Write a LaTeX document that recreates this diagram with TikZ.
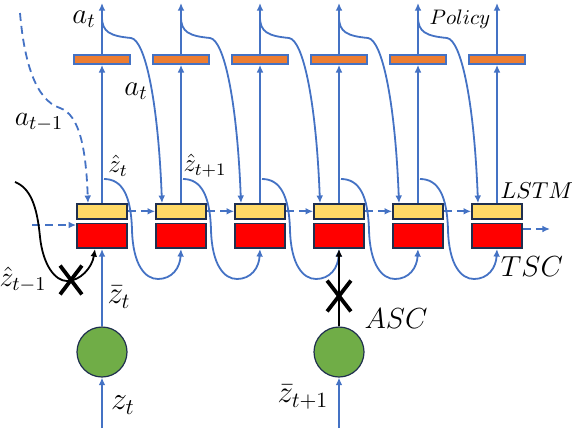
\documentclass[tikz,border=0pt]{standalone}
\usepackage{fix-cm}
\usepackage{amsmath}
\usepackage{tikz}
\usetikzlibrary{arrows.meta,positioning,calc,shapes.misc}
\definecolor{linkblue}{HTML}{4472C4}
\definecolor{polorange}{HTML}{ED7D31}
\definecolor{lstmyellow}{HTML}{FFD966}
\definecolor{tscred}{HTML}{FF0000}
\definecolor{ascgreen}{HTML}{70AD47}
\definecolor{boxnavy}{HTML}{1F2F4F}

\begin{document}
\begin{tikzpicture}[
  x=0.5pt, y=-0.5pt,
  lstm/.style={
    draw=boxnavy, line width=0.9pt, fill=lstmyellow,
    minimum width=25pt, minimum height=7.3pt, inner sep=0pt,
  },
  tsc/.style={
    draw=boxnavy, line width=0.9pt, fill=tscred,
    minimum width=25pt, minimum height=12.3pt, inner sep=0pt,
  },
  policy/.style={
    draw=linkblue, line width=0.9pt, fill=polorange,
    minimum width=28pt, minimum height=4.5pt, inner sep=0pt,
  },
  enc/.style={circle, draw=boxnavy, line width=0.6pt, fill=ascgreen,
    minimum size=25pt, inner sep=0pt},
  arr/.style={-{Latex[length=3.8pt,width=3.4pt]}, line width=0.9pt, draw=linkblue},
  darr/.style={arr, dash pattern=on 4pt off 2.5pt},
  karr/.style={-{Latex[length=3.8pt,width=3.4pt]}, line width=0.9pt, draw=black},
  cut/.style={cross out, draw=black, line width=1.9pt, inner sep=0pt},
  lbl/.style={inner sep=0pt},
]
\useasboundingbox (0,0) rectangle (572,428);
% one LSTM/TSC cell per step, policy head on top
\foreach \i/\x in {1/102, 2/181, 3/260, 4/339, 5/418, 6/497} {
  \node[lstm] (l\i) at (\x, 211.3) {};
  \node[tsc] (r\i) at (\x, 235.8) {};
  \node[policy] (p\i) at (\x, 59.5) {};
  \coordinate (o\i) at (\x, 3);
  \draw[arr] (l\i) -- (p\i);
  \draw[arr] (p\i) -- (o\i);
}
\foreach \i in {1,2,3,4,5} {
  \pgfmathtruncatemacro{\nxt}{\i+1}
  \draw[darr] (l\i) -- (l\nxt);
}
% action fed back, state fed forward
\foreach \i/\x in {1/102, 2/181, 3/260, 4/339, 5/418} {
  \pgfmathtruncatemacro{\nxt}{\i+1}
  \coordinate (q\i) at (\x, 17);
  \coordinate (h\i) at (\x+2, 179);
  \draw[arr] (q\i) .. controls (\x, 32) and (\x+8, 36) .. (\x+29, 38)
    .. controls (\x+43, 40) and (\x+56, 100) .. ([xshift=-9.5pt]l\nxt.north);
  \draw[arr] (h\i) .. controls (\x+20, 179) and (\x+29, 195) .. (\x+30, 230)
    .. controls (\x+31, 265) and (\x+43, 279) .. (\x+56, 279)
    .. controls (\x+70, 279) and (\x+78, 268) .. (r\nxt.south);
}
\coordinate (a0) at (20, 13);
\draw[darr] (a0) .. controls (24, 60) and (35, 100) .. (60, 108)
  .. controls (80, 115) and (86, 150) .. ([xshift=-7pt]l1.north);
\coordinate (s0) at (32, 225);
\draw[darr] (s0) -- (s0 -| r1.west);
\coordinate (s7) at (550, 229);
\draw[darr] (s7 -| r6.east) -- (s7);
% cut links
\coordinate (k0) at (15, 182);
\draw[karr] (k0) .. controls (30, 188) and (37, 205) .. (40, 237)
  .. controls (43, 265) and (55, 281) .. (67, 281)
  .. controls (80, 281) and (92, 268) .. ([xshift=-3.5pt]r1.south);
\node[cut, minimum width=9pt, minimum height=12.5pt] (x1) at (71, 280) {};
\node[enc] (c1) at (102, 352) {};
\node[enc] (c2) at (339, 352) {};
\coordinate (b1) at (102, 428);
\coordinate (b2) at (339, 428);
\draw[arr] (b1) -- (c1);
\draw[arr] (c1) -- (r1);
\draw[arr] (b2) -- (c2);
\draw[karr] (c2) -- (r4);
\node[cut, minimum width=10pt, minimum height=13.5pt] (x2) at (339, 296) {};
% labels
\node[lbl, font=\fontsize{14.5}{16}\selectfont] at (84, 19) {$a_t$};
\node[lbl, font=\fontsize{14.5}{16}\selectfont] at (136, 91) {$a_t$};
\node[lbl, font=\fontsize{14}{16}\selectfont] at (39, 122) {$a_{t-1}$};
\node[lbl, font=\fontsize{12.5}{14}\selectfont] at (118, 166) {$\hat{z}_t$};
\node[lbl, font=\fontsize{12.5}{14}\selectfont] at (205, 166) {$\hat{z}_{t+1}$};
\node[lbl, font=\fontsize{14}{16}\selectfont] at (23, 280) {$\hat{z}_{t-1}$};
\node[lbl, font=\fontsize{15.5}{18}\selectfont] at (119, 297) {$\bar{z}_t$};
\node[lbl, font=\fontsize{16}{18}\selectfont] at (123, 405) {$z_t$};
\node[lbl, font=\fontsize{15.5}{18}\selectfont] at (303, 397) {$\bar{z}_{t+1}$};
\node[lbl, font=\fontsize{14.5}{16}\selectfont] at (396, 319) {$ASC$};
\node[lbl, font=\fontsize{14.5}{16}\selectfont] at (532, 267) {$TSC$};
\node[lbl, font=\fontsize{11.5}{13}\selectfont] at (537, 191) {$LSTM$};
\node[lbl, font=\fontsize{10.5}{12}\selectfont] at (460, 19) {$Policy$};
\end{tikzpicture}
\end{document}
